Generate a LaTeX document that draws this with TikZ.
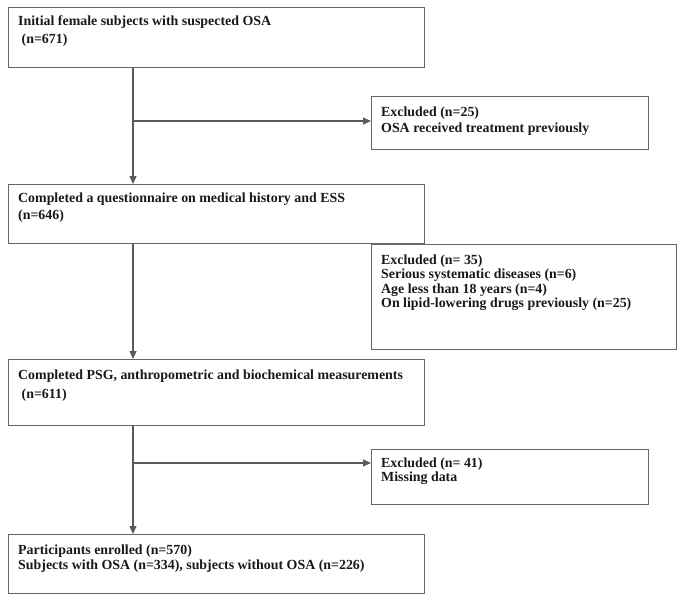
\documentclass[tikz,border=0pt]{standalone}
\usepackage{fontspec}
\setmainfont{Liberation Serif}
\usetikzlibrary{arrows.meta,calc}
\begin{document}
\begin{tikzpicture}[x=1pt,y=-1pt,
  box/.style={draw=black!60, line width=1.3pt, rectangle, inner sep=0pt, anchor=north west},
  txt/.style={anchor=base west, inner sep=0pt, text=black!90, font=\bfseries\fontsize{13.9}{16}\selectfont},
  link/.style={draw=black!65, line width=1.1pt},
  arr/.style={link, -{Triangle[length=8pt,width=7pt]}}]
\useasboundingbox (0,0) rectangle (685,602);
% boxes
\node[box, minimum width=416pt, minimum height=60pt] (b1) at (8,7) {};
\node[box, minimum width=416pt, minimum height=59pt] (b2) at (8,184) {};
\node[box, minimum width=416pt, minimum height=66pt] (b3) at (8,359) {};
\node[box, minimum width=416pt, minimum height=59pt] (b4) at (8,534) {};
\node[box, minimum width=277pt, minimum height=53pt] (e1) at (371,96) {};
\node[box, minimum width=305pt, minimum height=105pt] (e2) at (371,244) {};
\node[box, minimum width=277pt, minimum height=55pt] (e3) at (371,449) {};
% texts
\node[txt] (t1a) at (18,26) {Initial female subjects with suspected OSA};
\node[txt] (t1b) at (18,44) {\ (n=671)};
\node[txt] (t2a) at (18,202) {Completed a questionnaire on medical history and ESS};
\node[txt] (t2b) at (18,219) {(n=646)};
\node[txt] (t3a) at (18,379) {Completed PSG, anthropometric and biochemical measurements};
\node[txt] (t3b) at (18,398) {\ (n=611)};
\node[txt] (t4a) at (18,554) {Participants enrolled (n=570)};
\node[txt] (t4b) at (18,569) {Subjects with OSA (n=334), subjects without OSA (n=226)};
\node[txt] (e1a) at (381,116) {Excluded (n=25)};
\node[txt] (e1b) at (381,132) {OSA received treatment previously};
\node[txt] (e2a) at (381,264) {Excluded (n= 35)};
\node[txt] (e2b) at (381,278) {Serious systematic diseases (n=6)};
\node[txt] (e2c) at (381,293) {Age less than 18 years (n=4)};
\node[txt] (e2d) at (381,307) {On lipid-lowering drugs previously (n=25)};
\node[txt] (e3a) at (381,467) {Excluded (n= 41)};
\node[txt] (e3b) at (381,481) {Missing data};
% connectors
\coordinate (j1) at (133,121);
\coordinate (j2) at (133,463);
\draw[arr] (b1.south -| j1) -- (b2.north -| j1);
\draw[arr] (j1) -- (e1.west |- j1);
\draw[arr] (b2.south -| j1) -- (b3.north -| j1);
\draw[arr] (b3.south -| j2) -- (b4.north -| j2);
\draw[arr] (j2) -- (e3.west |- j2);
\end{tikzpicture}
\end{document}
